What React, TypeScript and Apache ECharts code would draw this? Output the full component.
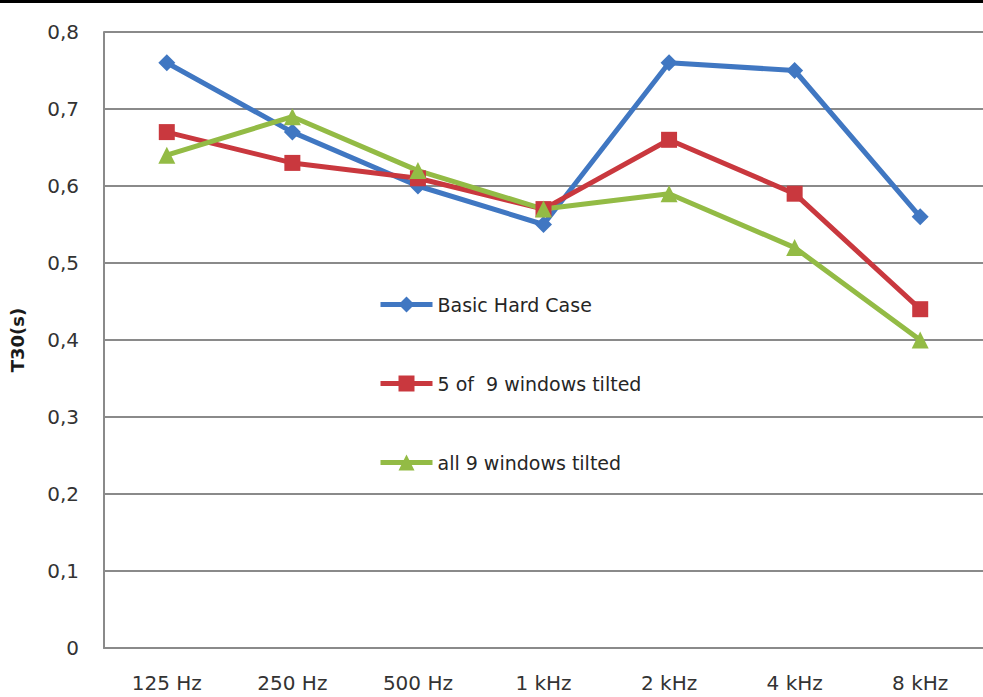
import React, { useEffect, useRef } from "react";
import * as echarts from "echarts";

const bands = ["125 Hz", "250 Hz", "500 Hz", "1 kHz", "2 kHz", "4 kHz", "8 kHz"];
const basicHardCase = [0.76, 0.67, 0.6, 0.55, 0.76, 0.75, 0.56];
const fiveOfNineTilted = [0.67, 0.63, 0.61, 0.57, 0.66, 0.59, 0.44];
const allNineTilted = [0.64, 0.69, 0.62, 0.57, 0.59, 0.52, 0.4];
const yTicks = [0, 0.1, 0.2, 0.3, 0.4, 0.5, 0.6, 0.7, 0.8];

const FONT = "DejaVu Sans";

export default function App() {
  const ref = useRef<HTMLDivElement>(null);

  useEffect(() => {
    if (!ref.current) return;
    const chart = echarts.init(ref.current, undefined, { renderer: "svg" });

    const lineSeries = (name: string, data: number[], color: string, symbol: string, size: number) => ({
      name,
      type: "line",
      data,
      symbol,
      symbolSize: size,
      lineStyle: { color, width: 5 },
      itemStyle: { color },
      emphasis: { disabled: true },
    });

    chart.setOption({
      animation: false,
      backgroundColor: "#ffffff",
      graphic: [
        { type: "rect", left: 0, top: 0, shape: { width: 983, height: 3 }, style: { fill: "#000000" } },
      ],
      grid: { left: 103, right: 0, top: 32, bottom: 49 },
      legend: {
        orient: "vertical",
        left: 373,
        top: 290,
        itemWidth: 52,
        itemHeight: 20,
        itemGap: 60,
        lineStyle: { width: 5 },
        textStyle: { fontFamily: FONT, fontSize: 19, color: "#262626" },
        data: ["Basic Hard Case", "5 of  9 windows tilted", "all 9 windows tilted"],
      },
      xAxis: {
        type: "category",
        data: bands,
        boundaryGap: true,
        axisTick: { show: false },
        axisLine: { lineStyle: { color: "#8a8a8a", width: 2 } },
        axisLabel: { fontFamily: FONT, fontSize: 20, color: "#333333", margin: 25 },
      },
      yAxis: {
        type: "value",
        min: yTicks[0],
        max: yTicks[yTicks.length - 1],
        interval: 0.1,
        name: "T30(s)",
        nameLocation: "middle",
        nameGap: 78,
        nameRotate: 90,
        nameTextStyle: { fontFamily: FONT, fontSize: 18, fontWeight: "bold", color: "#1a1a1a" },
        axisLine: { show: true, lineStyle: { color: "#8a8a8a", width: 2 } },
        axisTick: { show: false },
        splitLine: { lineStyle: { color: "#8a8a8a", width: 2 } },
        axisLabel: {
          fontFamily: FONT,
          fontSize: 20,
          color: "#333333",
          margin: 25,
          formatter: (v: number) => (v === 0 ? "0" : v.toFixed(1).replace(".", ",")),
        },
      },
      series: [
        lineSeries("Basic Hard Case", basicHardCase, "#4077c2", "diamond", 17),
        lineSeries("5 of  9 windows tilted", fiveOfNineTilted, "#c9383e", "rect", 16),
        lineSeries("all 9 windows tilted", allNineTilted, "#93bb45", "triangle", 17),
      ],
    });

    return () => chart.dispose();
  }, []);

  return (
    <div
      ref={ref}
      style={{ position: "fixed", left: 0, top: 0, width: 983, height: 697, background: "#fff" }}
    />
  );
}
